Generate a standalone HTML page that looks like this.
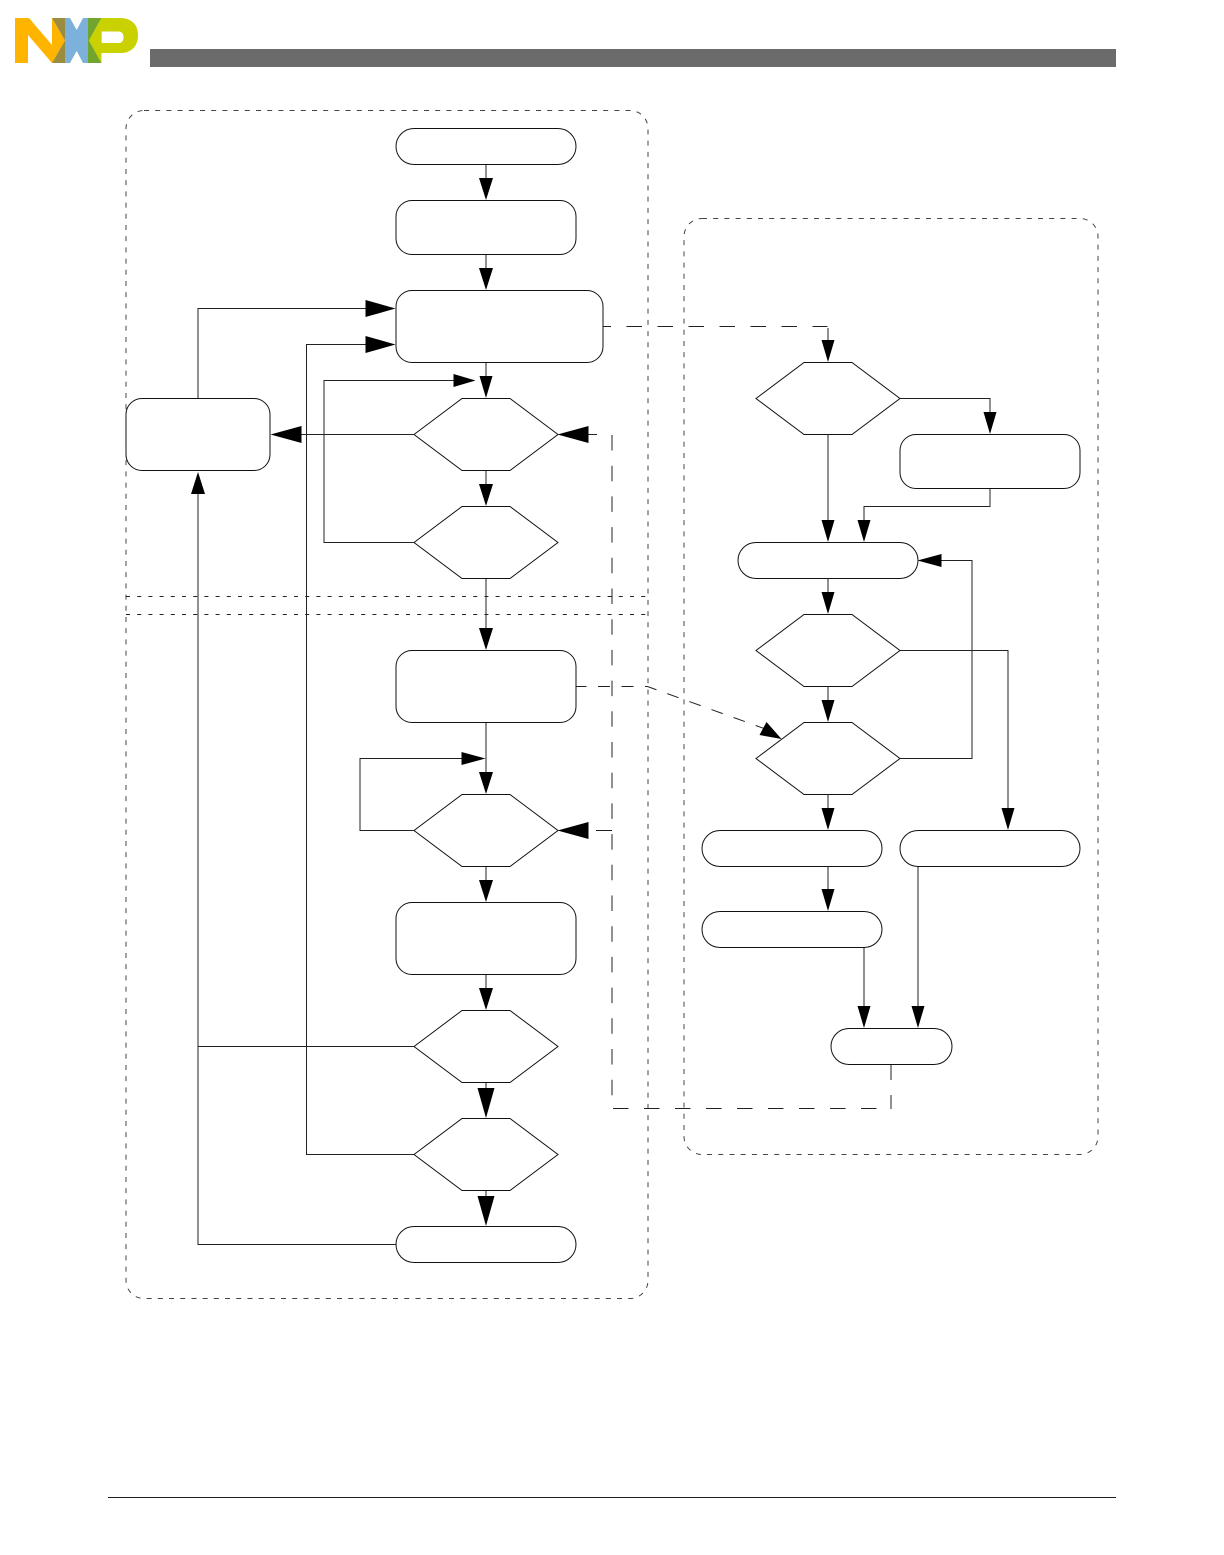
<!DOCTYPE html>
<html><head><meta charset="utf-8"><style>html,body{margin:0;padding:0;background:#fff}svg{display:block}</style></head><body>
<svg width="1224" height="1555" viewBox="0 0 1224 1555" xmlns="http://www.w3.org/2000/svg">
<!-- logo -->
<polygon points="15,18 29,18 52,45 52,18 65,40.5 52,63 28,35 28,63 15,63" fill="#FFB500"/>
<polygon points="52,18 65,18 65,40.5" fill="#9C8C3F"/>
<polygon points="52,63 65,40.5 65,63" fill="#9C8C3F"/>
<polygon points="65,18 70,18 76.7,30 83,18 88,18 89,40.5 88,63 83,63 76.7,51 70,63 65,63" fill="#7BB1DB"/>
<polygon points="88,18 101.5,18 89,40.5 101.5,63 88,63" fill="#72A52D"/>
<path d="M89,40.5 L101.5,18 H120 C132,18 138,25 138,35 C138,46 132,53 120,53 H101.5 V63 Z M101.7,31.5 V43 H119 C125,43 125,31.5 119,31.5 Z" fill="#C9D200" fill-rule="evenodd"/>
<rect x="150" y="49" width="966" height="18" fill="#6b6b6b"/>
<rect x="108" y="1497" width="1008" height="1" fill="#222"/>
<g transform="translate(-0.5,0)">
<!-- containers -->
<g fill="none" stroke="#444" stroke-width="1" stroke-dasharray="5 6.2">
<rect x="126.5" y="110.5" width="522" height="1188" rx="18" ry="18"/>
<path d="M126.5,596.5H648.5M126.5,614.5H648.5" stroke="#222" stroke-dasharray="4 7.2"/>
<rect x="684.5" y="218.5" width="414" height="936" rx="18" ry="18"/>
</g>
<!-- connectors -->
<g fill="none" stroke="#222" stroke-width="1">
<path d="M486.5,164V180M486.5,254V270M486.5,362V378M486.5,470V486M486.5,578V630M486.5,722V774M486.5,866V882M486.5,974V990M486.5,1082V1090M486.5,1190V1198"/>
<path d="M414,542.5H324.5V380.5H456"/>
<path d="M414,434.5H300"/>
<path d="M198.5,398V308.5H368"/>
<path d="M414.5,1154.5H307V344.5H368"/>
<path d="M414,830.5H360.5V758.5H464"/>
<path d="M396,1244.5H198.5V494"/>
<path d="M414,1046.5H198.5"/>
<path d="M900,398.5H990.5V414"/>
<path d="M828.5,434V520M828.5,578V594M828.5,686V702M828.5,794V810M828.5,866V890"/>
<path d="M990.5,488V506.5H864.5V522"/>
<path d="M900.5,650.5H1008.5V810"/>
<path d="M900.5,758.5H972.5V560.5H940"/>
<path d="M864.5,947V1008M918.5,866V1008"/>
<path d="M828.5,328V342"/>
</g>
<!-- dashed -->
<g fill="none" stroke="#222" stroke-width="1">
<path d="M603.5,326.5H828" stroke-dasharray="15.5 15.5" stroke-dashoffset="7.5"/>
<path d="M577,686.5H648L766,729" stroke-dasharray="12 11.5" stroke-dashoffset="2"/>
<path d="M612.5,435V1096" stroke-dasharray="15.5 15.2"/>
<path d="M891.5,1065V1109M891.5,1065" stroke-dasharray="15 15"/>
<path d="M613.5,1108.5H891" stroke-dasharray="15.5 15.5"/>
<path d="M597.5,434.5H588M612.5,830.5H596.5"/>
</g>
<!-- arrowheads -->
<g fill="#000">
<polygon points="486.5,200 479.5,178 493.5,178"/>
<polygon points="486.5,290 479.5,268 493.5,268"/>
<polygon points="486.5,398 480,376 493,376"/>
<polygon points="486.5,506 479.5,484 493.5,484"/>
<polygon points="486.5,650 479.5,628 493.5,628"/>
<polygon points="486.5,794 479.5,772 493.5,772"/>
<polygon points="486.5,902 479.5,880 493.5,880"/>
<polygon points="486.5,1010 479.5,988 493.5,988"/>
<polygon points="486.5,1118 478,1088 495,1088"/>
<polygon points="486.5,1226 478,1196 495,1196"/>
<polygon points="476,380.5 454,374 454,387"/>
<polygon points="486,758.5 462,752 462,765"/>
<polygon points="396,308.5 366,300 366,317"/>
<polygon points="396,344.5 366,336 366,353"/>
<polygon points="271,434.5 302,426 302,443"/>
<polygon points="558,434.5 589,426 589,443"/>
<polygon points="558,830.5 589,822 589,839"/>
<polygon points="198.5,472 191.5,494 205.5,494"/>
<polygon points="828.5,362 822,340 835,340"/>
<polygon points="990.5,434 984,412 997,412"/>
<polygon points="828.5,542 822,520 835,520"/>
<polygon points="864.5,542 858,520 871,520"/>
<polygon points="828.5,614 822,592 835,592"/>
<polygon points="828.5,722 822,700 835,700"/>
<polygon points="828.5,830 822,808 835,808"/>
<polygon points="828.5,911 822,889 835,889"/>
<polygon points="1008.5,830 1002,808 1015,808"/>
<polygon points="864.5,1028 858,1006 871,1006"/>
<polygon points="918.5,1028 912,1006 925,1006"/>
<polygon points="918,560.5 942,554 942,567"/>
<polygon points="782,739 760,735 767,722"/>
</g>
<!-- nodes -->
<g fill="none" stroke="#111" stroke-width="1">
<rect x="396.5" y="128.5" width="180" height="36" rx="18"/>
<rect x="396.5" y="200.5" width="180" height="54" rx="16"/>
<rect x="396.5" y="290.5" width="207" height="72" rx="16"/>
<rect x="126.5" y="398.5" width="144" height="72" rx="16"/>
<rect x="396.5" y="650.5" width="180" height="72" rx="16"/>
<rect x="396.5" y="902.5" width="180" height="72" rx="16"/>
<rect x="396.5" y="1226.5" width="180" height="36" rx="18"/>
<polygon points="414.5,434.5 462.5,398.5 510.5,398.5 558.5,434.5 510.5,470.5 462.5,470.5"/>
<polygon points="414.5,542.5 462.5,506.5 510.5,506.5 558.5,542.5 510.5,578.5 462.5,578.5"/>
<polygon points="414.5,830.5 462.5,794.5 510.5,794.5 558.5,830.5 510.5,866.5 462.5,866.5"/>
<polygon points="414.5,1046.5 462.5,1010.5 510.5,1010.5 558.5,1046.5 510.5,1082.5 462.5,1082.5"/>
<polygon points="414.5,1154.5 462.5,1118.5 510.5,1118.5 558.5,1154.5 510.5,1190.5 462.5,1190.5"/>
<polygon points="756.5,398.5 804.5,362.5 852.5,362.5 900.5,398.5 852.5,434.5 804.5,434.5"/>
<polygon points="756.5,650.5 804.5,614.5 852.5,614.5 900.5,650.5 852.5,686.5 804.5,686.5"/>
<polygon points="756.5,758.5 804.5,722.5 852.5,722.5 900.5,758.5 852.5,794.5 804.5,794.5"/>
<rect x="900.5" y="434.5" width="180" height="54" rx="16"/>
<rect x="738.5" y="542.5" width="180" height="36" rx="18"/>
<rect x="702.5" y="830.5" width="180" height="36" rx="18"/>
<rect x="900.5" y="830.5" width="180" height="36" rx="18"/>
<rect x="702.5" y="911.5" width="180" height="36" rx="18"/>
<rect x="831.5" y="1028.5" width="121" height="36" rx="18"/>
</g>
</g>
</svg>
</body></html>
